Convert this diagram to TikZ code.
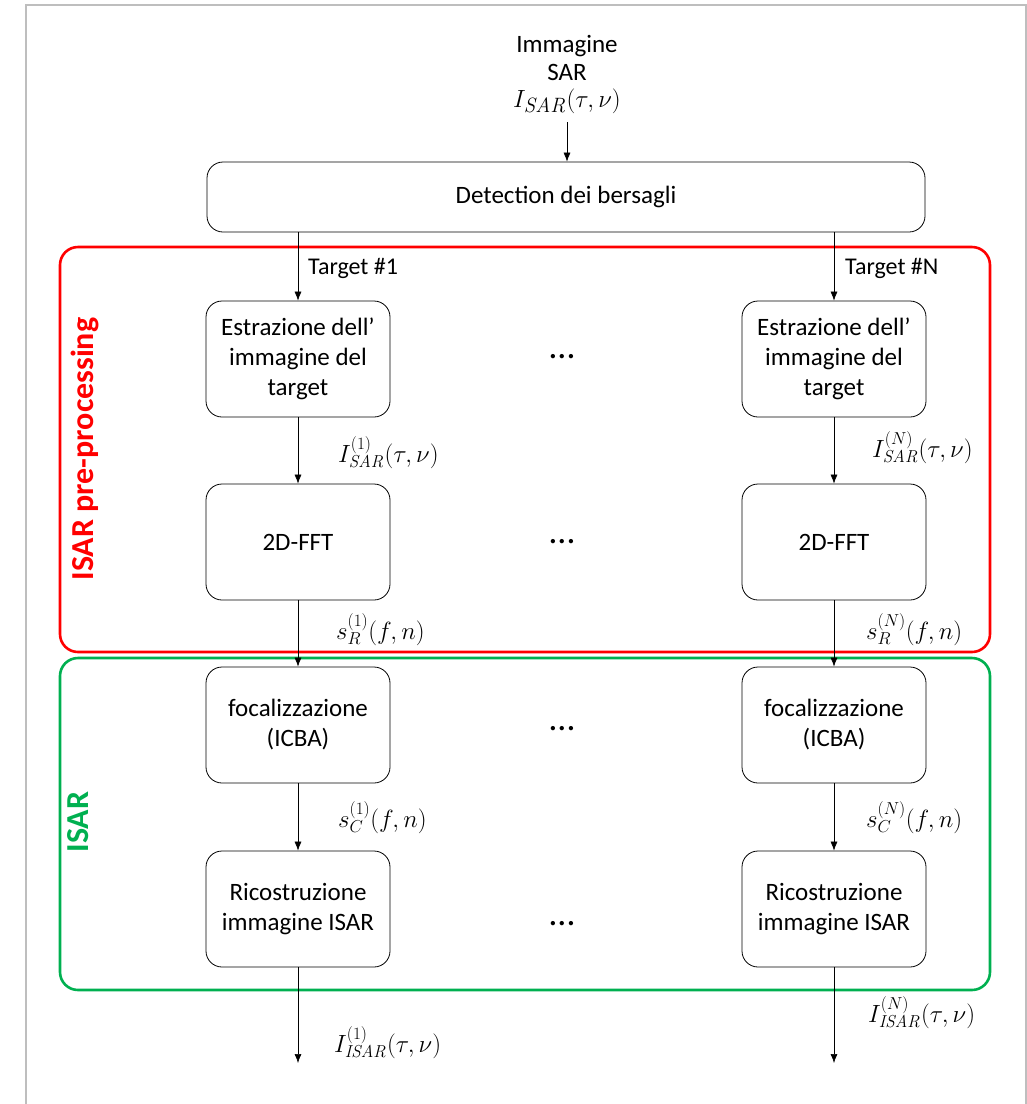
\documentclass[tikz,border=0pt]{standalone}
\usepackage[no-math]{fontspec}
\setmainfont{Carlito}
\usetikzlibrary{arrows.meta}
\definecolor{isarred}{RGB}{255,0,0}
\definecolor{isargreen}{RGB}{0,176,80}
\definecolor{framegray}{RGB}{190,190,190}
\begin{document}
\begin{tikzpicture}[x=1pt,y=-1pt,
  proc/.style={draw, line width=0.8pt, rounded corners=16pt, minimum width=184pt, minimum height=116pt, align=center, font=\fontsize{25}{30}\selectfont, inner sep=0pt},
  arr/.style={draw, line width=0.6pt, -{Latex[length=9pt,width=7pt]}},
  lbl/.style={anchor=west, inner sep=0pt, font=\fontsize{27}{30}\selectfont},
  tlbl/.style={anchor=west, inner sep=0pt, font=\fontsize{24}{28}\selectfont},
  dots/.style={font=\fontsize{36}{38}\selectfont, inner sep=0pt, anchor=base},
  grouplbl/.style={rotate=90, anchor=base, font=\fontsize{32}{34}\selectfont\bfseries, inner sep=0pt}]
\useasboundingbox (0,0) rectangle (1027,1104);
% page frame
\draw[framegray, line width=1.5pt] (26,1104) -- (26,5) -- (1026,5) -- (1026,1104);
% input
\node[align=center, font=\fontsize{25}{28}\selectfont, inner sep=0pt] (inp) at (567,58) {Immagine\\SAR};
\node[font=\fontsize{28}{30}\selectfont, inner sep=0pt] (inpm) at (567,101) {$I_{\mathit{SAR}}(\tau,\nu)$};
\node[proc, minimum width=718pt, minimum height=70pt] (det) at (566,197) {Detection dei bersagli};
\coordinate (inpend) at (567,122);
\draw[arr] (inpend) -- (det.north -| inpend);
% groups
\draw[isarred, line width=2.6pt, rounded corners=18pt] (60,247) rectangle (990,652);
\draw[isargreen, line width=2.6pt, rounded corners=18pt] (60,658) rectangle (990,990);
\node[grouplbl, text=isarred] (gpre) at (93,449) {ISAR pre-processing};
\node[grouplbl, text=isargreen] (gisar) at (88,822) {ISAR};
% boxes
\node[proc] (e1) at (298,359) {Estrazione dell’\\immagine del\\target};
\node[proc] (eN) at (834,359) {Estrazione dell’\\immagine del\\target};
\node[proc] (f1) at (298,542) {2D-FFT};
\node[proc] (fN) at (834,542) {2D-FFT};
\node[proc] (c1) at (298,725) {focalizzazione\\(ICBA)};
\node[proc] (cN) at (834,725) {focalizzazione\\(ICBA)};
\node[proc] (r1) at (298,909) {Ricostruzione\\immagine ISAR};
\node[proc] (rN) at (834,909) {Ricostruzione\\immagine ISAR};
% dots
\node[dots] (d1) at (562,358) {…};
\node[dots] (d2) at (562,543) {…};
\node[dots] (d3) at (562,730) {…};
\node[dots] (d4) at (562,925) {…};
% connectors
\draw[arr] (det.south -| e1) -- (e1.north);
\draw[arr] (det.south -| eN) -- (eN.north);
\draw[arr] (e1) -- (f1);
\draw[arr] (eN) -- (fN);
\draw[arr] (f1) -- (c1);
\draw[arr] (fN) -- (cN);
\draw[arr] (c1) -- (r1);
\draw[arr] (cN) -- (rN);
\coordinate (o1) at (298,1063);
\coordinate (oN) at (834,1063);
\draw[arr] (r1) -- (o1);
\draw[arr] (rN) -- (oN);
% labels
\node[tlbl] (t1) at (308,268) {Target \#1};
\node[tlbl] (tN) at (845,268) {Target \#N};
\node[lbl] (l1a) at (338,453) {$I^{(1)}_{\mathit{SAR}}(\tau,\nu)$};
\node[lbl] (lNa) at (872,448) {$I^{(N)}_{\mathit{SAR}}(\tau,\nu)$};
\node[lbl] (l1b) at (336,630) {$s^{(1)}_{R}(f,n)$};
\node[lbl] (lNb) at (866,630) {$s^{(N)}_{R}(f,n)$};
\node[lbl] (l1c) at (338,818) {$s^{(1)}_{C}(f,n)$};
\node[lbl] (lNc) at (866,818) {$s^{(N)}_{C}(f,n)$};
\node[lbl] (l1d) at (334,1043) {$I^{(1)}_{\mathit{ISAR}}(\tau,\nu)$};
\node[lbl] (lNd) at (868,1013) {$I^{(N)}_{\mathit{ISAR}}(\tau,\nu)$};
\end{tikzpicture}
\end{document}
